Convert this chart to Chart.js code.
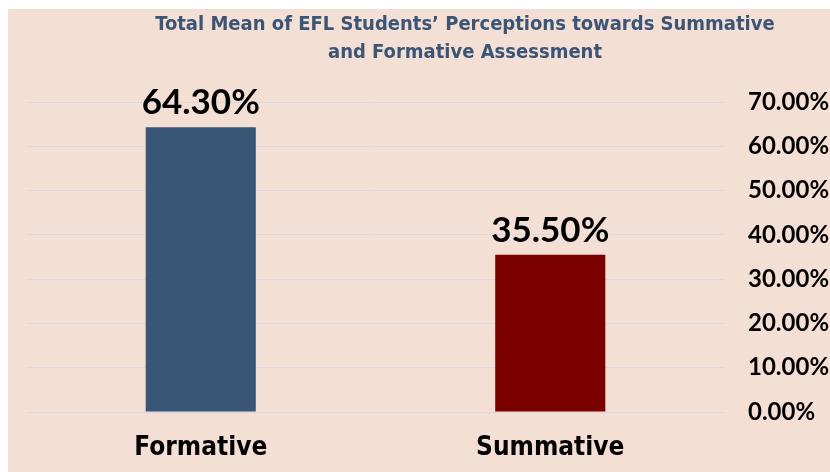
<!DOCTYPE html>
<html>
<head>
<meta charset="utf-8">
<script src="https://cdn.jsdelivr.net/npm/chart.js@4"></script>
<style>
  html, body { margin: 0; padding: 0; background: #ffffff; }
  #wrap { position: absolute; left: 8px; top: 9px; width: 822px; height: 463px; background: #F4DFD5; }
</style>
</head>
<body>
<div id="wrap"><canvas id="chart" width="822" height="463"></canvas></div>
<script>
// chart data
const categories = ['Formative', 'Summative'];
const values = [64.3, 35.5];
const barColors = ['#3A5677', '#7B0000'];
const titleLines = ['Total Mean of EFL Students\u2019 Perceptions towards Summative', 'and Formative Assessment'];

// title drawn by hand so it can sit off-centre like the original
const titlePlugin = {
    id: 'titleText',
    afterDraw(chart) {
        const ctx = chart.ctx;
        ctx.save();
        ctx.fillStyle = '#3B5577';
        ctx.font = 'bold 20px "Liberation Sans Narrow", "DejaVu Sans Condensed", sans-serif';
        ctx.textAlign = 'center';
        ctx.textBaseline = 'middle';
        ctx.fillText(titleLines[0], 457, 16);
        ctx.fillText(titleLines[1], 457, 44);
        ctx.restore();
    }
};

// value labels above bars
const valueLabels = {
    id: 'valueLabels',
    afterDatasetsDraw(chart) {
        const ctx = chart.ctx;
        const meta = chart.getDatasetMeta(0);
        ctx.save();
        ctx.fillStyle = '#000000';
        ctx.font = 'bold 35px Lato, sans-serif';
        ctx.textAlign = 'center';
        ctx.textBaseline = 'bottom';
        meta.data.forEach((bar, i) => {
            ctx.fillText(values[i].toFixed(2) + '%', bar.x, bar.y - 7);
        });
        ctx.restore();
    }
};

const ctx = document.getElementById('chart').getContext('2d');
const myChart = new Chart(ctx, {
    type: 'bar',
    data: {
        labels: categories,
        datasets: [{
            data: values,
            backgroundColor: barColors,
            categoryPercentage: 1,
            barPercentage: 0.315
        }]
    },
    options: {
        responsive: false,
        animation: false,
        layout: { padding: { left: 18, top: 93, right: 0, bottom: 0 } },
        plugins: {
            legend: { display: false },
            tooltip: { enabled: false }
        },
        scales: {
            x: {
                grid: { display: false, drawTicks: false },
                border: { display: false },
                ticks: {
                    color: '#000000',
                    padding: 21,
                    font: { family: '"Liberation Sans Narrow", "DejaVu Sans Condensed", sans-serif', size: 26, weight: 'bold' }
                },
                afterFit: scale => { scale.height = 60; }
            },
            y: {
                position: 'right',
                min: 0,
                max: 70,
                grid: { color: '#DCD8DE', drawTicks: false },
                border: { display: false },
                ticks: {
                    stepSize: 10,
                    color: '#000000',
                    padding: 23,
                    crossAlign: 'near',
                    font: { family: 'Lato, sans-serif', size: 24, weight: 'bold' },
                    callback: v => v.toFixed(2) + '%'
                },
                afterFit: scale => { scale.width = 105; }
            }
        }
    },
    plugins: [titlePlugin, valueLabels]
});
</script>
</body>
</html>
